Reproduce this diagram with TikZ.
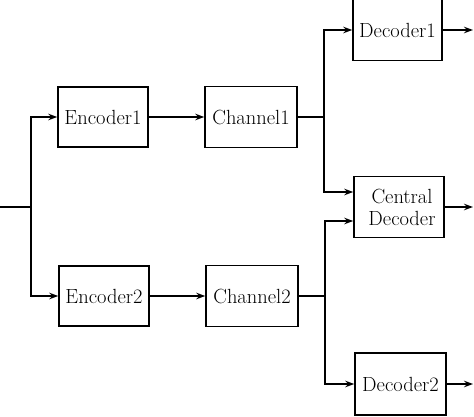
\documentclass[tikz,border=0pt]{standalone}
\usepackage{fontspec}
\usetikzlibrary{arrows.meta}
\begin{document}
\begin{tikzpicture}[x=1pt,y=-1pt,
  blk/.style={draw,line width=1.5pt,inner sep=0pt,font=\fontsize{20.5}{22}\selectfont,align=center},
  wire/.style={line width=1.5pt},
  arr/.style={wire,-{Stealth[length=9pt,width=6.5pt]}}]
\useasboundingbox (0,0) rectangle (474,417);
\node[blk,minimum width=90pt,minimum height=60pt] (e1) at (103,117) {Encoder1};
\node[blk,minimum width=92pt,minimum height=61pt] (c1) at (251,117) {Channel1};
\node[blk,minimum width=90pt,minimum height=60pt] (e2) at (104,296) {Encoder2};
\node[blk,minimum width=92pt,minimum height=61pt] (c2) at (252,296) {Channel2};
\node[blk,minimum width=89pt,minimum height=61pt] (d1) at (397.5,30) {Decoder1};
\node[blk,minimum width=90pt,minimum height=61pt] (cd) at (399,207) {\hspace*{6pt}Central\\\hspace*{6pt}Decoder};
\node[blk,minimum width=91pt,minimum height=62pt] (d2) at (400.5,384) {Decoder2};
\coordinate (in) at (0,207);
\coordinate (s) at (31,207);
\coordinate (j1) at (324,117);
\coordinate (j2) at (325,296);
\coordinate (o1) at (473,30);
\coordinate (oc) at (473,207);
\coordinate (o2) at (473,384);
\draw[wire] (in) -- (s);
\draw[arr] (s) |- (e1.west);
\draw[arr] (s) |- (e2.west);
\draw[arr] (e1) -- (c1);
\draw[arr] (e2) -- (c2);
\draw[wire] (c1.east) -- (j1);
\draw[wire] (c2.east) -- (j2);
\draw[arr] (j1) |- (d1.west);
\draw[arr] (j1) |- ([yshift=15pt]cd.west);
\draw[arr] (j2) |- ([yshift=-14pt]cd.west);
\draw[arr] (j2) |- (d2.west);
\draw[arr] (d1.east) -- (o1);
\draw[arr] (cd.east) -- (oc);
\draw[arr] (d2.east) -- (o2);
\end{tikzpicture}
\end{document}
